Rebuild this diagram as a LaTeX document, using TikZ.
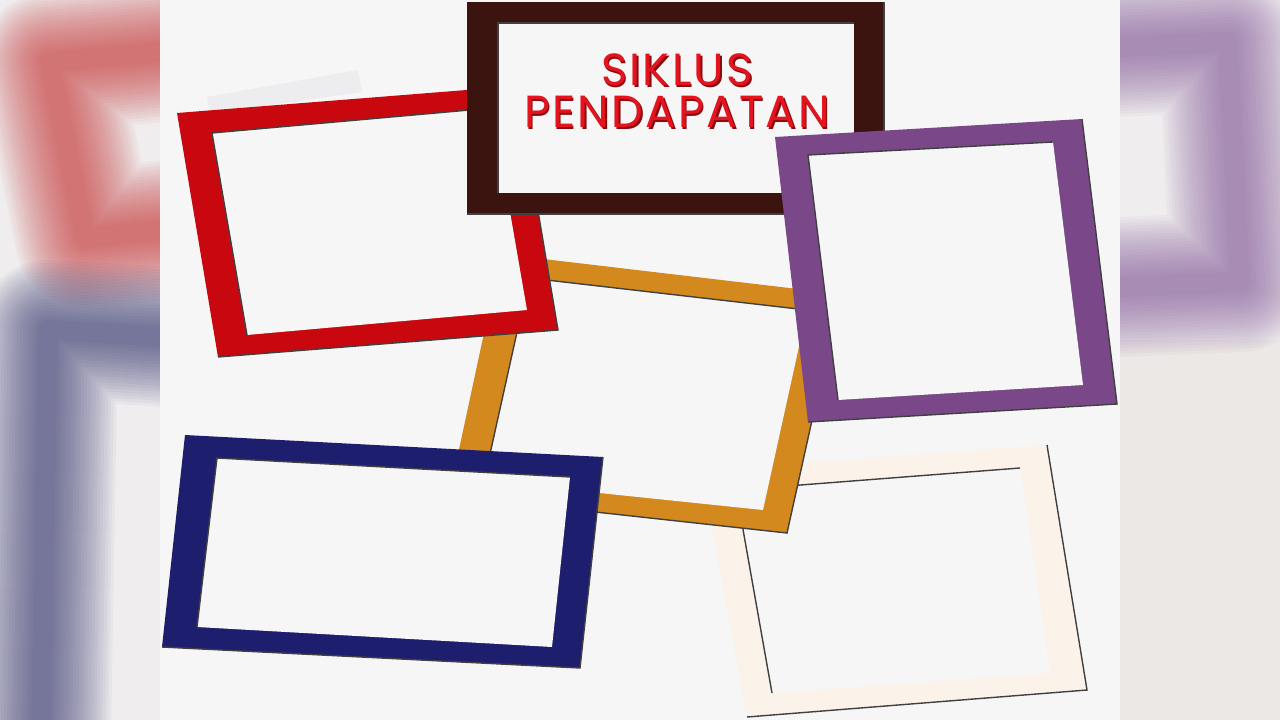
\documentclass[tikz,border=0pt]{standalone}
\usepackage{fontspec}
\newfontfamily\titlefont[LetterSpace=5]{Poppins}
\definecolor{bgc}{HTML}{F6F6F7}
\definecolor{sidebg}{HTML}{EFEDEE}
\definecolor{sidelow}{HTML}{ECE8E6}
\definecolor{fred}{HTML}{C8080E}
\definecolor{fbrown}{HTML}{3B1410}
\definecolor{forange}{HTML}{D4891E}
\definecolor{fpurple}{HTML}{7A4889}
\definecolor{fblue}{HTML}{1E1E6E}
\definecolor{fcream}{HTML}{FBF3E9}
\definecolor{ghost}{HTML}{EDEDF0}
\definecolor{titlered}{HTML}{E3141E}
\definecolor{titleshadow}{HTML}{8B0A0F}
\definecolor{bred}{HTML}{C83030}
\definecolor{bblue}{HTML}{34346F}
\definecolor{bpurple}{HTML}{85589A}
\tikzset{
  shadowline/.style={draw=black!75, line width=1.4pt, line join=miter},
  blurstroke/.style={line join=round, line cap=round, opacity=0.045},
  titletext/.style={font=\titlefont\fontsize{45}{42}\selectfont, inner sep=0pt, align=center, text=titlered},
}
\newcommand\frm[9]{%
  \fill[#1] #2 -- #3 -- #4 -- #5 -- cycle;
  \fill[bgc] #6 -- #7 -- #8 -- #9 -- cycle;
  \draw[shadowline] #3 -- #4 -- #5;
  \draw[shadowline] #9 -- #6 -- #7;
}
\newcommand\blurpath[2]{%
  \foreach \w in {20,26,...,140}{\draw[blurstroke, #1, line width=\w pt] #2;}%
}
\newcommand\shadowed[1]{\rlap{\kern1.5pt\raisebox{-1.5pt}{\textcolor{titleshadow}{#1}}}#1}
\begin{document}
\begin{tikzpicture}[x=1pt,y=-1pt]
\useasboundingbox (0,0) rectangle (1280,720);
% left blurred panel
\fill[sidebg] (0,0) rectangle (160,720);
\begin{scope}
  \clip (0,0) rectangle (160,720);
  \blurpath{draw=bred}{(185,50) -- (50,62) -- (85,238) -- (185,228)}
  \blurpath{draw=bblue}{(185,338) -- (48,330) -- (40,790)}
\end{scope}
% right blurred panel
\fill[sidebg] (1120,0) rectangle (1280,720);
\fill[sidelow] (1120,340) rectangle (1280,720);
\begin{scope}
  \clip (1120,0) rectangle (1280,720);
  \blurpath{draw=bpurple}{(1095,48) -- (1228,42) -- (1240,282) -- (1095,288)}
\end{scope}
% central panel
\fill[bgc] (160,0) rectangle (1120,720);
% faint ghost
\fill[ghost] (207,97) -- (358,70) -- (362,92) -- (210,114) -- cycle;
% frames, back to front
\frm{fcream}{(701,470)}{(1047,445)}{(1087,690)}{(747,717)}{(736,490)}{(1020,468)}{(1050,673)}{(772,693)}
\frm{forange}{(501,254)}{(840,294)}{(787,533)}{(449,496)}{(529,278)}{(807,310)}{(763,510)}{(484,481)}
\frm{fblue}{(185,435)}{(603,457)}{(580,668)}{(162,647)}{(217,458)}{(570,477)}{(552,647)}{(197,627)}
\frm{fred}{(177,113)}{(517,86)}{(558,330)}{(218,357)}{(212,133)}{(492,108)}{(527,310)}{(247,335)}
\frm{fbrown}{(467,2)}{(884,2)}{(884,214)}{(467,214)}{(498,23)}{(854,23)}{(854,193)}{(498,193)}
\frm{fpurple}{(775,137)}{(1082,119)}{(1117,404)}{(808,422)}{(808,155)}{(1053,142)}{(1083,385)}{(838,400)}
% title
\node[titletext, anchor=north] (title) at (677,54) {\shadowed{SIKLUS}\\\shadowed{PENDAPATAN}};
\end{tikzpicture}
\end{document}
